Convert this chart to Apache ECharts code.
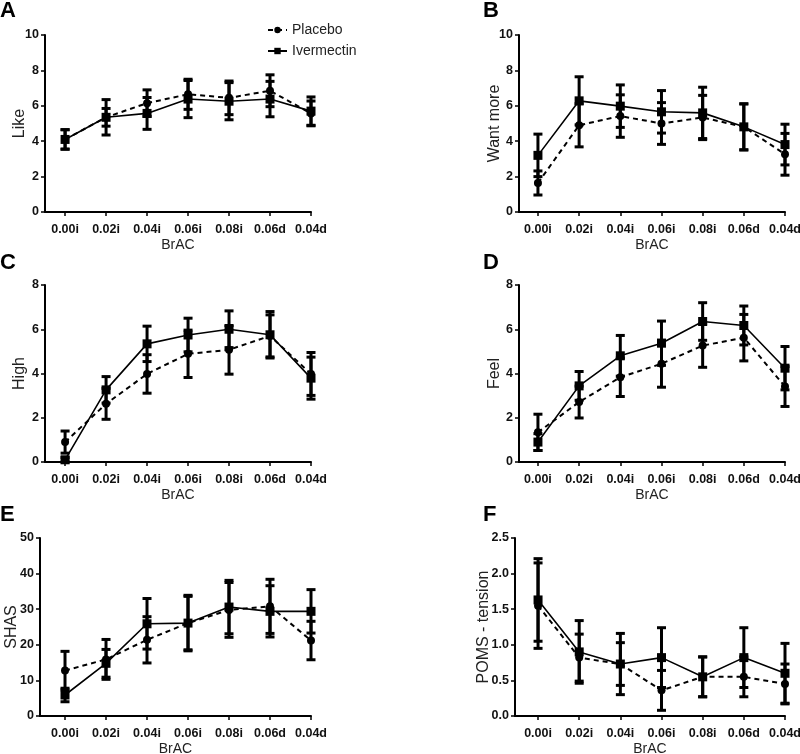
<!DOCTYPE html>
<html>
<head>
<meta charset="utf-8">
<script src="https://cdn.jsdelivr.net/npm/echarts@6/dist/echarts.min.js"></script>
<style>html,body{margin:0;padding:0;background:#fff}#c{width:800px;height:754px}</style>
</head>
<body>
<div id="c"></div>
<script>
const categories = ['0.00i','0.02i','0.04i','0.06i','0.08i','0.06d','0.04d'];

const likePlacebo    = [4.10, 5.35, 6.15, 6.65, 6.45, 6.85, 5.57];
const likePlaceboErr = [0.55, 0.50, 0.75, 0.85, 0.95, 0.90, 0.70];
const likeIver       = [4.10, 5.35, 5.57, 6.38, 6.26, 6.38, 5.70];
const likeIverErr    = [0.55, 1.00, 0.90, 1.05, 1.05, 1.00, 0.80];

const wantPlacebo    = [1.64, 4.90, 5.42, 5.00, 5.34, 4.81, 3.26];
const wantPlaceboErr = [0.68, 1.22, 1.20, 1.18, 1.25, 1.30, 1.18];
const wantIver       = [3.20, 6.28, 5.98, 5.66, 5.60, 4.81, 3.81];
const wantIverErr    = [1.20, 1.36, 1.20, 1.20, 1.45, 1.30, 1.15];

const highPlacebo    = [0.90, 2.63, 3.98, 4.89, 5.07, 5.70, 3.98];
const highPlaceboErr = [0.50, 0.70, 0.87, 1.07, 1.10, 0.95, 0.97];
const highIver       = [0.10, 3.26, 5.34, 5.74, 6.00, 5.75, 3.79];
const highIverErr    = [0.10, 0.60, 0.80, 0.76, 0.83, 1.05, 0.95];

const feelPlacebo    = [1.34, 2.71, 3.83, 4.44, 5.26, 5.62, 3.41];
const feelPlaceboErr = [0.82, 0.72, 0.87, 1.06, 0.98, 1.05, 0.90];
const feelIver       = [0.90, 3.44, 4.80, 5.37, 6.35, 6.17, 4.24];
const feelIverErr    = [0.38, 0.65, 0.92, 1.00, 0.85, 0.88, 0.98];

const shasPlacebo    = [12.76, 15.9, 21.4, 26.1, 29.8, 30.8, 21.2];
const shasPlaceboErr = [5.4, 5.6, 6.5, 7.5, 7.7, 7.6, 5.4];
const shasIver       = [5.9, 14.8, 25.9, 26.1, 30.6, 29.4, 29.4];
const shasIverErr    = [1.9, 3.9, 7.1, 7.8, 7.5, 7.2, 6.1];

const pomsPlacebo    = [1.55, 0.82, 0.73, 0.36, 0.55, 0.55, 0.45];
const pomsPlaceboErr = [0.60, 0.33, 0.30, 0.28, 0.28, 0.28, 0.28];
const pomsIver       = [1.63, 0.90, 0.73, 0.82, 0.55, 0.82, 0.60];
const pomsIverErr    = [0.58, 0.44, 0.43, 0.42, 0.28, 0.42, 0.42];

const yTitles = ['Like','Want more','High','Feel','SHAS','POMS - tension'];
const yMax = [10, 10, 8, 8, 50, 2.5];
const yInterval = [2, 2, 2, 2, 10, 0.5];
const panelLetters = ['A','B','C','D','E','F'];

const panels = [
  {p: likePlacebo, pe: likePlaceboErr, v: likeIver, ve: likeIverErr},
  {p: wantPlacebo, pe: wantPlaceboErr, v: wantIver, ve: wantIverErr},
  {p: highPlacebo, pe: highPlaceboErr, v: highIver, ve: highIverErr},
  {p: feelPlacebo, pe: feelPlaceboErr, v: feelIver, ve: feelIverErr},
  {p: shasPlacebo, pe: shasPlaceboErr, v: shasIver, ve: shasIverErr},
  {p: pomsPlacebo, pe: pomsPlaceboErr, v: pomsIver, ve: pomsIverErr}
];

// layout
const grids = [
  {left: 45,  top: 35,  width: 266, height: 177, xmin: -0.49, nameGap: 17},
  {left: 519, top: 35,  width: 266, height: 177, xmin: -0.46, nameGap: 16},
  {left: 45,  top: 285, width: 266, height: 177, xmin: -0.49, nameGap: 17},
  {left: 519, top: 285, width: 266, height: 177, xmin: -0.46, nameGap: 16},
  {left: 40,  top: 538, width: 271, height: 178, xmin: -0.61, nameGap: 20},
  {left: 515, top: 538, width: 270, height: 178, xmin: -0.56, nameGap: 23}
];
const letterPos = [[0,0],[483,0],[0,252],[483,252],[0,504],[483,504]];

const FONT = "'Liberation Sans', Arial, sans-serif";
const idx = categories.map((c, i) => i);

function errRender(params, api) {
  const x = api.value(0), lo = api.value(1), hi = api.value(2);
  const a = api.coord([x, hi]), b = api.coord([x, lo]);
  const w = 4.5;
  const st = {stroke: '#000', lineWidth: 3};
  return {type: 'group', children: [
    {type: 'line', shape: {x1: a[0], y1: a[1], x2: b[0], y2: b[1]}, style: st},
    {type: 'line', shape: {x1: a[0]-w, y1: a[1], x2: a[0]+w, y2: a[1]}, style: st},
    {type: 'line', shape: {x1: b[0]-w, y1: b[1], x2: b[0]+w, y2: b[1]}, style: st}
  ]};
}

const option = {
  animation: false,
  backgroundColor: '#fff',
  textStyle: {fontFamily: FONT},
  grid: grids.map(g => ({left: g.left, top: g.top, width: g.width, height: g.height, containLabel: false, outerBoundsMode: 'none'})),
  xAxis: grids.map((g, i) => ({
    type: 'value', gridIndex: i, min: g.xmin, max: 6,
    name: 'BrAC', nameLocation: 'middle', nameGap: 26, nameMoveOverlap: false,
    nameTextStyle: {fontSize: 14, color: '#222', fontFamily: FONT},
    axisLine: {show: true, onZero: false, lineStyle: {color: '#000', width: 2}},
    axisTick: {show: true, customValues: idx, length: 4, lineStyle: {color: '#000', width: 1.5}},
    axisLabel: {customValues: idx, formatter: v => categories[Math.round(v)], fontSize: 12.5, fontWeight: 'bold', color: '#111', margin: 11, fontFamily: FONT},
    splitLine: {show: false}
  })),
  yAxis: grids.map((g, i) => ({
    type: 'value', gridIndex: i, min: 0, max: yMax[i], interval: yInterval[i],
    name: yTitles[i], nameLocation: 'middle', nameGap: g.nameGap, nameRotate: 90, nameMoveOverlap: false,
    nameTextStyle: {fontSize: 16, color: '#222', fontFamily: FONT},
    axisLine: {show: true, onZero: false, lineStyle: {color: '#000', width: 2}},
    axisTick: {show: true, length: 4, lineStyle: {color: '#000', width: 1.5}},
    axisLabel: {fontSize: 12.5, fontWeight: 'bold', color: '#111', margin: 6, fontFamily: FONT,
      formatter: v => (i === 5 ? v.toFixed(1) : String(v))},
    splitLine: {show: false}
  })),
  legend: {
    left: 262, top: 18, orient: 'vertical', itemWidth: 19, itemHeight: 8, itemGap: 7,
    data: ['Placebo', 'Ivermectin'],
    textStyle: {fontSize: 14, color: '#222', fontFamily: FONT}
  },
  graphic: panelLetters.map((L, i) => ({
    type: 'text', left: letterPos[i][0], top: letterPos[i][1],
    style: {text: L, font: "bold 22px 'Liberation Sans', Arial, sans-serif", fill: '#000'}
  })),
  series: []
};

panels.forEach((pn, i) => {
  option.series.push({
    type: 'custom', xAxisIndex: i, yAxisIndex: i, renderItem: errRender,
    encode: {x: 0, y: [1, 2]}, z: 2,
    data: pn.p.map((v, k) => [k, v - pn.pe[k], v + pn.pe[k]])
  });
  option.series.push({
    type: 'custom', xAxisIndex: i, yAxisIndex: i, renderItem: errRender,
    encode: {x: 0, y: [1, 2]}, z: 2,
    data: pn.v.map((v, k) => [k, v - pn.ve[k], v + pn.ve[k]])
  });
  option.series.push({
    name: 'Placebo', type: 'line', xAxisIndex: i, yAxisIndex: i, z: 3,
    symbol: 'circle', symbolSize: 8,
    lineStyle: {color: '#000', width: 2, type: [5, 4]},
    itemStyle: {color: '#000'},
    data: pn.p.map((v, k) => [k, v])
  });
  option.series.push({
    name: 'Ivermectin', type: 'line', xAxisIndex: i, yAxisIndex: i, z: 4,
    symbol: 'rect', symbolSize: 9,
    lineStyle: {color: '#000', width: 1.6, type: 'solid'},
    itemStyle: {color: '#000'},
    data: pn.v.map((v, k) => [k, v])
  });
});

const chart = echarts.init(document.getElementById('c'), null, {renderer: 'canvas'});
chart.setOption(option);
</script>
</body>
</html>
